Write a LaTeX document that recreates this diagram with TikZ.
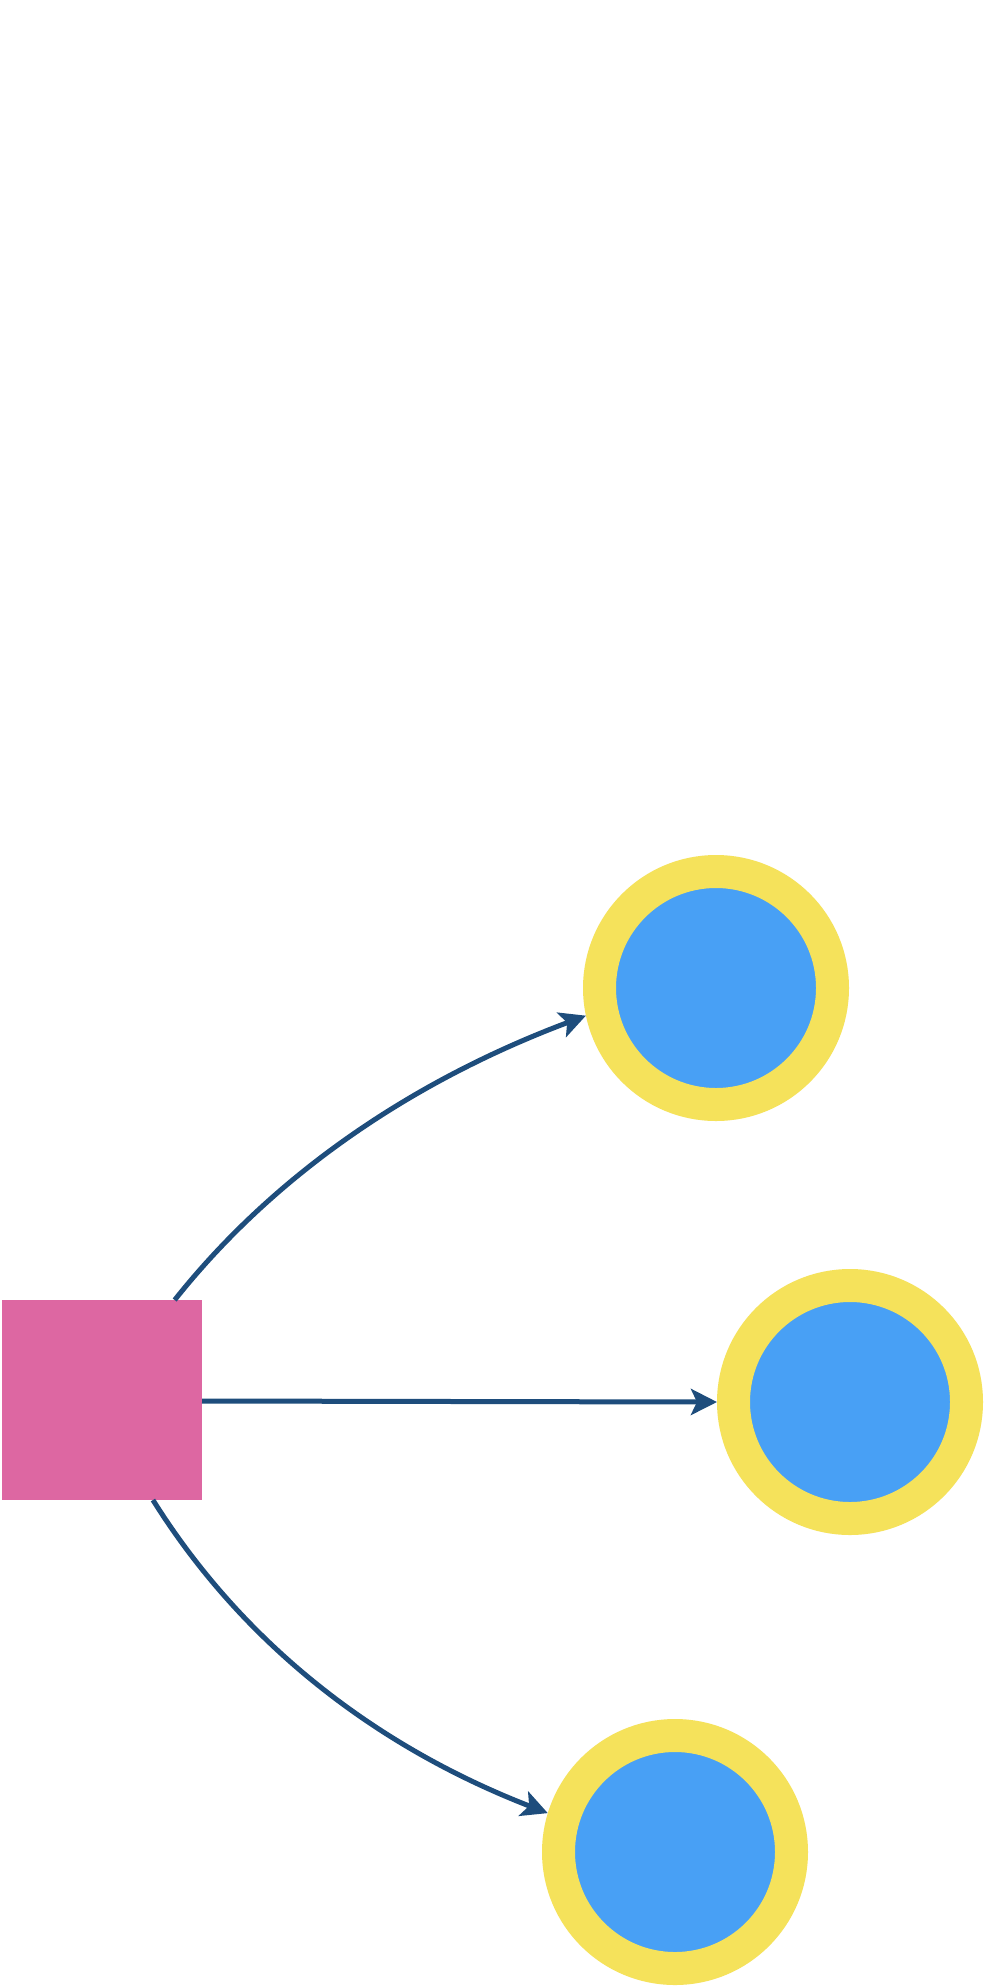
\documentclass[tikz,border=0pt]{standalone}
\usetikzlibrary{arrows.meta}
\definecolor{pinkbox}{HTML}{DD67A2}
\definecolor{ringyellow}{HTML}{F5E25B}
\definecolor{dotblue}{HTML}{48A0F5}
\definecolor{linkblue}{HTML}{1E4D7C}
\tikzset{
  sqbox/.style={rectangle, fill=pinkbox, minimum size=200pt, inner sep=0pt, outer sep=0pt},
  ring/.style={circle, fill=dotblue, draw=ringyellow, line width=33pt, minimum size=233pt, inner sep=0pt, outer sep=16.5pt},
  link/.style={draw=linkblue, line width=5pt, -{Stealth[length=26pt, width=26pt, inset=6pt]}}
}
\begin{document}
\begin{tikzpicture}[x=1pt, y=-1pt]
\useasboundingbox[fill=white] (0,0) rectangle (986,1988);
\node[sqbox] (sq) at (102,1400) {};
\node[ring] (c1) at (716,988) {};
\node[ring] (c2) at (850,1402) {};
\node[ring] (c3) at (675,1852) {};
\draw[link] (sq.54.6) .. controls (273.7,1175.3) and (411,1081.3) .. (c1.192.9);
\draw[link] ([yshift=-1pt]sq.east) -- (c2.west);
\draw[link] (sq.-63) .. controls (240.3,1639.6) and (370.9,1744.6) .. (c3.163.7);
\end{tikzpicture}
\end{document}
